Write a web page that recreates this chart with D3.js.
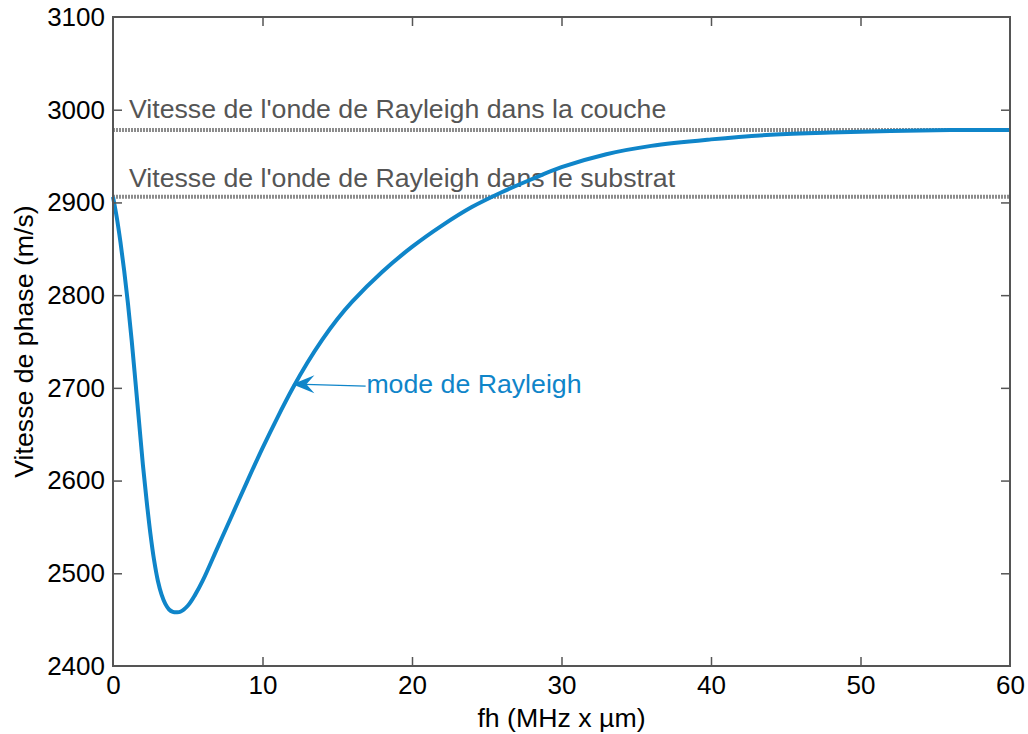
<!DOCTYPE html>
<html><head><meta charset="utf-8">
<script src="https://cdn.jsdelivr.net/npm/d3@7"></script>
<style>body{margin:0;background:#fff}svg{display:block}text{font-family:"Liberation Sans",Arial,sans-serif}</style>
</head><body><svg id="c" width="1028" height="734"></svg>
<script>
const fh = [0,0.25,0.5,0.75,1,1.25,1.5,1.75,2,2.25,2.5,2.75,3,3.25,3.5,3.75,4,4.25,4.5,5,5.5,6,7,8,9,10,11,12,13,14,15,16,18,20,22,24,26,28,30,33,36,40,44,48,52,56,60];
const vitesse = [2906,2884,2857,2826,2791,2751,2707,2662,2617,2578,2543,2514,2492,2477,2467,2461,2458.5,2458,2458.5,2465,2477,2492,2528,2564,2600,2635,2668,2699,2727,2752,2774,2793,2825,2852,2875,2895,2911,2925,2938,2952,2961,2968,2973,2975.5,2977,2978,2978];
const vCouche = 2978;
const vSubstrat = 2906;
const xTicks = [0,10,20,30,40,50,60];
const yTicks = [2400,2500,2600,2700,2800,2900,3000,3100];
const labelCouche = "Vitesse de l'onde de Rayleigh dans la couche";
const labelSubstrat = "Vitesse de l'onde de Rayleigh dans le substrat";
const labelMode = "mode de Rayleigh";
const xTitle = "fh (MHz x µm)";
const yTitle = "Vitesse de phase (m/s)";

const svg = d3.select("#c");
const L=113, R=1010, T=17, B=666;
const x = d3.scaleLinear().domain([0,60]).range([L,R]);
const y = d3.scaleLinear().domain([2400,3100]).range([B,T]);
const blue = "#0f85c9", axisCol = "#555";
const FS = 26, FL = 26.7;

// reference lines
[[vCouche,labelCouche,-12],[vSubstrat,labelSubstrat,-10]].forEach(([v,lab,off])=>{
  svg.append("line").attr("x1",L).attr("x2",R).attr("y1",y(v)).attr("y2",y(v))
    .attr("stroke","#8c8c8c").attr("stroke-width",4).attr("stroke-dasharray","2,1");
  svg.append("text").attr("x",x(1.07)).attr("y",y(v)+off).attr("font-size",FL).attr("fill","#555").text(lab);
});

// curve
svg.append("path").datum(fh.map((d,i)=>[d,vitesse[i]]))
  .attr("d",d3.line().x(d=>x(d[0])).y(d=>y(d[1])).curve(d3.curveCatmullRom.alpha(0.5)))
  .attr("fill","none").attr("stroke",blue).attr("stroke-width",4);

// annotation
const ax = x(12.0), ay = y(2704);
svg.append("line").attr("x1",ax+4).attr("y1",ay).attr("x2",x(16.9)).attr("y2",ay+2)
  .attr("stroke",blue).attr("stroke-width",1.3);
svg.append("path").attr("d",`M${ax},${ay} L${ax+22},${ay-9} L${ax+14},${ay} L${ax+22},${ay+9} Z`).attr("fill",blue);
svg.append("text").attr("x",x(16.95)).attr("y",ay+9).attr("font-size",FL).attr("fill",blue).text(labelMode);

// axes
const tl = 9;
const fmt = d3.format("d");
const gB = svg.append("g").attr("transform",`translate(0,${B})`).call(d3.axisBottom(x).tickValues(xTicks).tickSize(-tl).tickPadding(10).tickFormat(fmt));
const gT = svg.append("g").attr("transform",`translate(0,${T})`).call(d3.axisTop(x).tickValues(xTicks).tickSize(-tl).tickFormat(""));
const gL = svg.append("g").attr("transform",`translate(${L},0)`).call(d3.axisLeft(y).tickValues(yTicks).tickSize(-tl).tickPadding(8).tickFormat(fmt));
const gR = svg.append("g").attr("transform",`translate(${R},0)`).call(d3.axisRight(y).tickValues(yTicks).tickSize(-tl).tickFormat(""));
[gB,gT,gL,gR].forEach(g=>{
  g.select(".domain").remove();
  g.selectAll(".tick line").attr("stroke",axisCol).attr("stroke-width",1.5);
  g.selectAll("text").attr("font-size",FS).attr("fill","#000").attr("font-family","'Liberation Sans',Arial,sans-serif");
});
gB.selectAll(".tick").filter(d=>d===0||d===60).select("line").remove();
gT.selectAll(".tick").filter(d=>d===0||d===60).select("line").remove();
gL.selectAll(".tick").filter(d=>d===2400||d===3100).select("line").remove();
gR.selectAll(".tick").filter(d=>d===2400||d===3100).select("line").remove();
svg.append("rect").attr("x",L).attr("y",T).attr("width",R-L).attr("height",B-T)
  .attr("fill","none").attr("stroke",axisCol).attr("stroke-width",2);

svg.append("text").attr("x",(L+R)/2).attr("y",727).attr("text-anchor","middle").attr("font-size",FL).text(xTitle);
svg.append("text").attr("transform",`translate(33,${(T+B)/2}) rotate(-90)`).attr("text-anchor","middle").attr("font-size",FL).text(yTitle);
</script></body></html>
